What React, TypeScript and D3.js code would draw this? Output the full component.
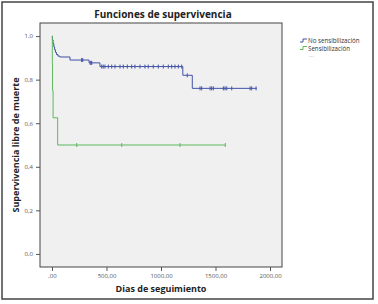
import { useEffect, useRef } from 'react';
import * as d3 from 'd3';

// step points [day, survival]
const noSensSteps: [number, number][] = [
  [0, 1.0], [4, 0.982], [10, 0.965], [17, 0.95], [24, 0.937], [32, 0.925],
  [42, 0.915], [55, 0.908], [72, 0.904], [165, 0.89], [340, 0.877],
  [440, 0.86], [1200, 0.82], [1287, 0.76], [1878, 0.76],
];
const noSensCensored: number[] = [
  272, 282, 350, 358, 365, 456, 470, 486, 517, 548, 578, 624, 654, 691, 731, 761,
  807, 853, 883, 929, 975, 1021, 1067, 1098, 1128, 1159, 1190, 1241, 1358, 1373,
  1450, 1465, 1480, 1572, 1587, 1603, 1649, 1817, 1832, 1872,
];
const sensSteps: [number, number][] = [
  [0, 1.0], [3, 0.875], [5, 0.75], [10, 0.625], [52, 0.5], [1590, 0.5],
];
const sensCensored: number[] = [227, 640, 1175, 1590];

const xTicks = [0, 500, 1000, 1500, 2000];
const xTickLabels = [',00', '500,00', '1000,00', '1500,00', '2000,00'];
const yTicks = [0, 0.2, 0.4, 0.6, 0.8, 1.0];
const yTickLabels = ['0,0', '0,2', '0,4', '0,6', '0,8', '1,0'];

const series = [
  { label: 'No sensibilización', color: '#4152a6', steps: noSensSteps, cens: noSensCensored },
  { label: 'Sensibilización', color: '#5cb85c', steps: sensSteps, cens: sensCensored },
];

export default function App() {
  const svgRef = useRef<SVGSVGElement>(null);

  useEffect(() => {
    if (!svgRef.current) return;
    const svg = d3.select(svgRef.current);
    svg.selectAll('*').remove();
    const font = 'Open Sans, Noto Sans, sans-serif';

    const plot = { left: 40, right: 282, top: 23, bottom: 267 };
    const x = d3.scaleLinear().domain([-110, 2110]).range([plot.left, plot.right]);
    const y = d3.scaleLinear().domain([-0.06, 1.06]).range([plot.bottom, plot.top]);

    svg.append('rect').attr('width', 378).attr('height', 304).attr('fill', '#fff');
    svg.append('rect')
      .attr('x', 2).attr('y', 2).attr('width', 371).attr('height', 297)
      .attr('fill', 'none').attr('stroke', '#444').attr('stroke-width', 1.5);

    svg.append('rect')
      .attr('x', plot.left).attr('y', plot.top)
      .attr('width', plot.right - plot.left).attr('height', plot.bottom - plot.top)
      .attr('fill', '#f0f0f0').attr('stroke', '#444').attr('stroke-width', 1);

    // y axis ticks
    const gy = svg.append('g').attr('transform', `translate(${plot.left},0)`)
      .call(d3.axisLeft(y).tickValues(yTicks).tickSize(4).tickFormat((_, i) => yTickLabels[i]));
    gy.select('.domain').remove();
    gy.selectAll('line').attr('stroke', '#555');
    gy.selectAll('text').attr('fill', '#555').style('font-size', '6px').style('font-family', font);

    const gx = svg.append('g').attr('transform', `translate(0,${plot.bottom})`)
      .call(d3.axisBottom(x).tickValues(xTicks).tickSize(4).tickFormat((_, i) => xTickLabels[i]));
    gx.select('.domain').remove();
    gx.selectAll('line').attr('stroke', '#555');
    gx.selectAll('text').attr('fill', '#555').style('font-size', '6px').style('font-family', font);

    const line = d3.line<[number, number]>()
      .x((d) => x(d[0])).y((d) => y(d[1])).curve(d3.curveStepAfter);

    series.forEach((s) => {
      svg.append('path').datum(s.steps)
        .attr('fill', 'none').attr('stroke', s.color).attr('stroke-width', 1)
        .attr('d', line);
      const valAt = (t: number) => {
        let v = s.steps[0][1];
        s.steps.forEach((p) => { if (p[0] <= t) v = p[1]; });
        return v;
      };
      svg.append('g').selectAll('line').data(s.cens).join('line')
        .attr('x1', (d) => x(d)).attr('x2', (d) => x(d))
        .attr('y1', (d) => y(valAt(d)) - 2).attr('y2', (d) => y(valAt(d)) + 2)
        .attr('stroke', s.color).attr('stroke-width', 1);
    });

    svg.append('text')
      .attr('x', 163).attr('y', 18).attr('text-anchor', 'middle')
      .style('font-family', font).style('font-size', '10px').style('font-weight', 'bold')
      .attr('fill', '#222').text('Funciones de supervivencia');

    svg.append('text')
      .attr('x', 161).attr('y', 292).attr('text-anchor', 'middle')
      .style('font-family', font).style('font-size', '9px').style('font-weight', 'bold')
      .attr('fill', '#222').text('Dias de seguimiento');

    svg.append('text')
      .attr('transform', 'translate(19,145) rotate(-90)').attr('text-anchor', 'middle')
      .style('font-family', font).style('font-size', '9px').style('font-weight', 'bold')
      .attr('fill', '#222').text('Supervivencia libre de muerte');

    const legend = svg.append('g').attr('transform', 'translate(300,41)');
    series.forEach((s, i) => {
      const g = legend.append('g').attr('transform', `translate(0,${i * 7.5})`);
      g.append('path').attr('d', 'M0,1 H3 V-2 H7')
        .attr('fill', 'none').attr('stroke', s.color).attr('stroke-width', 1);
      g.append('text').attr('x', 8).attr('y', 2)
        .style('font-family', font).style('font-size', '6.2px')
        .attr('fill', '#333').text(s.label);
    });
    legend.append('text').attr('x', 9).attr('y', 16)
      .style('font-family', font).style('font-size', '6px')
      .attr('fill', '#999').text('...');
  }, []);

  return (
    <div style={{ position: 'absolute', left: 0, top: 0 }}>
      <svg ref={svgRef} width={378} height={304} />
    </div>
  );
}
